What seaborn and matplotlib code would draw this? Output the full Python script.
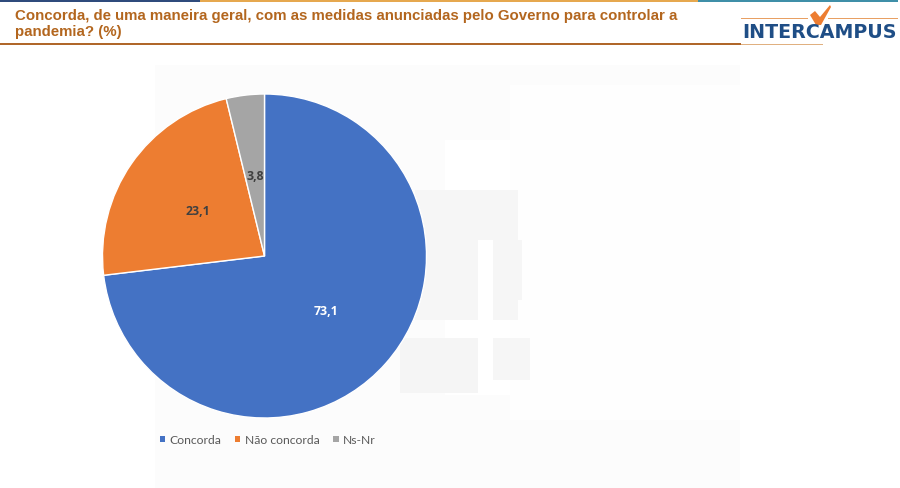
import matplotlib
matplotlib.use("Agg")
import matplotlib.pyplot as plt
import seaborn as sns
from matplotlib.patches import Polygon, Rectangle

categories = ["Concorda", "Não concorda", "Ns-Nr"]
values = [73.1, 23.1, 3.8]
value_labels = ["73,1", "23,1", "3,8"]
label_colors = ["white", "#404040", "#404040"]
title = ("Concorda, de uma maneira geral, com as medidas anunciadas pelo Governo para controlar a\n"
         "pandemia? (%)")

W, H = 900, 488
sns.set_theme(style="white")
colors = sns.color_palette(["#4472c4", "#ed7d31", "#a5a5a5"])

fig = plt.figure(figsize=(W / 100, H / 100), dpi=100, facecolor="white")

# page furniture, in pixel coords
bg = fig.add_axes([0, 0, 1, 1], zorder=0)
bg.set_xlim(0, W); bg.set_ylim(H, 0); bg.axis("off")


def box(x0, y0, x1, y1, color):
    bg.add_patch(Rectangle((x0, y0), x1 - x0, y1 - y0, fc=color, ec="none"))


# faded photo behind the chart
box(155, 65, 740, 488, "#fcfcfc")
box(445, 140, 510, 395, "#ffffff")
box(510, 85, 740, 420, "#fefefe")
box(415, 190, 518, 320, "#f6f6f6")
box(518, 240, 522, 300, "#f6f6f6")
box(478, 240, 493, 395, "#ffffff")
box(400, 338, 478, 393, "#f5f5f5")
box(493, 338, 530, 380, "#f6f6f6")

# top strip and rules
box(0, 0, 200, 1.5, "#2f4b7c")
box(200, 0, 698, 1.5, "#e6a84f")
box(698, 0, 898, 1.5, "#3f8fa8")
box(0, 43, 741, 45, "#b0672a")
box(741, 43.5, 823, 45, "#e0b080")

# logo
box(741, 17.5, 808, 19, "#e8a063")
box(828, 17.5, 898, 19, "#e8a063")
bg.add_patch(Polygon([(810, 15), (815, 11), (820, 17), (830, 5), (831, 7), (821, 25), (816, 25)],
                     fc="#ed7d31", ec="none"))
bg.text(819.5, 32.5, "INTERCAMPUS", color="#1f4e86", fontsize=13.7, fontweight="bold",
        family="DejaVu Sans", ha="center", va="center")

bg.text(15, 24, title, color="#b3661e", fontsize=10.8, fontweight="bold",
        family="Liberation Sans", ha="left", va="center", linespacing=1.25)

# pie: centre (264.5, 256), radius 162 px
ax = fig.add_axes([(264.5 - 162) / W, 1 - (256 + 162) / H, 324 / W, 324 / H], zorder=1)
ax.patch.set_alpha(0)
wedges, _ = ax.pie(values, colors=colors, startangle=90, counterclock=False, radius=1,
                   wedgeprops={"linewidth": 1, "edgecolor": "white"})
ax.set_xlim(-1, 1); ax.set_ylim(-1, 1)

label_pos = [(0.38, -0.34), (-0.41, 0.274), (-0.06, 0.489)]
for (x, y), txt, col in zip(label_pos, value_labels, label_colors):
    ax.text(x, y, txt, ha="center", va="center", fontsize=8.8, fontweight="bold",
            family="Open Sans", color=col)

leg = fig.legend(wedges, categories, loc="center left", bbox_to_anchor=(159.5 / W, 1 - 440 / H),
                 ncol=3, frameon=False, handlelength=0.45, handleheight=0.45, handletextpad=0.35,
                 columnspacing=1.15, prop={"family": "Lato", "size": 8.7}, labelcolor="#595959",
                 borderpad=0, borderaxespad=0)
for h in leg.legend_handles:
    h.set_linewidth(0)

fig.savefig("out.png", dpi=100)
